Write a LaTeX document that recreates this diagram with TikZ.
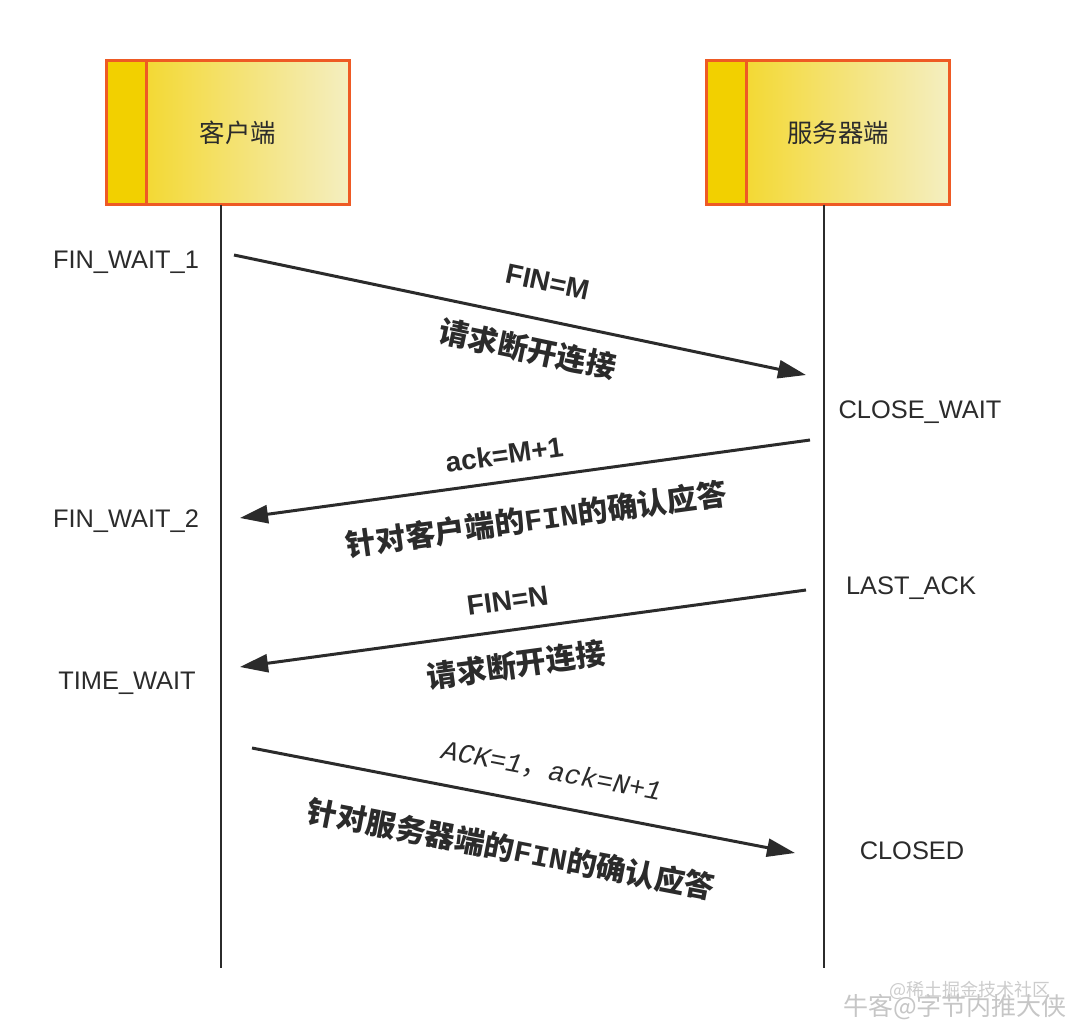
\documentclass[tikz,border=0pt]{standalone}
\usepackage{fontspec}
\setmainfont{Liberation Sans}
\newfontfamily\cjk{Noto Sans CJK SC}
\newfontfamily\mono{Liberation Mono}
\usetikzlibrary{arrows.meta}
\definecolor{boxedge}{HTML}{EE5A24}
\definecolor{boxgold}{HTML}{F2D000}
\definecolor{boxpale}{HTML}{F4EEC0}
\definecolor{ink}{HTML}{2B2B2B}
\begin{document}
\begin{tikzpicture}[x=0.5pt, y=-0.5pt, line width=1.5pt,
  every node/.style={text=ink, font=\fontsize{12.7}{14}\selectfont},
  party/.style={left color=boxgold!90!white, right color=boxpale, minimum width=120pt, minimum height=70.5pt, inner sep=0pt},
  edge/.style={draw=boxedge, line width=1.5pt},
  life/.style={draw=ink, line width=1.4pt},
  msg/.style={draw=ink, line width=1.5pt, -{Triangle[length=14pt,width=9pt]}},
  state/.style={inner sep=0pt},
  tag/.style={font=\fontsize{14}{16}\selectfont\bfseries, sloped, inner sep=0pt},
  note/.style={font=\cjk\bfseries\fontsize{15}{18}\selectfont, sloped, inner sep=0pt}]
  \fill[white] (0,0) rectangle (1080,1030);
  \useasboundingbox (0,0) rectangle (1080,1030);

  \node[party] (client) at (228,132.5) {};
  \fill[boxgold] (client.north west) rectangle ([xshift=20pt]client.south west);
  \draw[edge] (client.north west) rectangle (client.south east);
  \draw[edge] ([xshift=20pt]client.north west) -- ([xshift=20pt]client.south west);
  \node (clientName) at ([xshift=5pt]client.center) {\cjk 客户端};
  \node[party] (server) at (828,132.5) {};
  \fill[boxgold] (server.north west) rectangle ([xshift=20pt]server.south west);
  \draw[edge] (server.north west) rectangle (server.south east);
  \draw[edge] ([xshift=20pt]server.north west) -- ([xshift=20pt]server.south west);
  \node (serverName) at ([xshift=5pt]server.center) {\cjk 服务器端};

  \coordinate (clientEnd) at (221,968);
  \coordinate (serverEnd) at (824,968);
  \draw[life] (client.south -| clientEnd) -- (clientEnd);
  \draw[life] (server.south -| serverEnd) -- (serverEnd);

  \node[state] (fw1) at (126,262) {FIN\_WAIT\_1};
  \node[state] (cw) at (920,412) {CLOSE\_WAIT};
  \node[state] (fw2) at (126,521) {FIN\_WAIT\_2};
  \node[state] (la) at (911,588) {LAST\_ACK};
  \node[state] (tw) at (127,683) {TIME\_WAIT};
  \node[state] (cl) at (912,851) {CLOSED};

  \coordinate (finC) at (234,255);
  \coordinate (finS) at (806,375);
  \draw[msg] (finC) -- node[tag, pos=0.535, yshift=19pt] {FIN=M}
    node[note, pos=0.525, yshift=-16pt] {请求断开连接} (finS);
  \coordinate (ackS) at (810,440);
  \coordinate (ackC) at (240,518);
  \draw[msg] (ackS) -- node[tag, pos=0.53, yshift=13.5pt] {ack=M+1}
    node[note, pos=0.49, yshift=-20.5pt] {针对客户端的{\mono FIN}的确认应答} (ackC);
  \coordinate (fin2S) at (806,590);
  \coordinate (fin2C) at (240,667);
  \draw[msg] (fin2S) -- node[tag, pos=0.52, yshift=15pt] {FIN=N}
    node[note, pos=0.52, yshift=-17.5pt] {请求断开连接} (fin2C);
  \coordinate (lastC) at (252,748);
  \coordinate (lastS) at (795,853);
  \draw[msg] (lastC) -- node[sloped, inner sep=0pt, pos=0.54, yshift=17pt, font=\fontsize{13.6}{15}\selectfont] {{\mono\itshape ACK=1}{\cjk ，}{\mono\itshape ack=N+1}}
    node[note, pos=0.495, yshift=-25pt] {针对服务器端的{\mono FIN}的确认应答} (lastS);

  \node[font=\cjk\fontsize{9}{10}\selectfont, text=gray!40] (wmSite) at (970,990) {@稀土掘金技术社区};
  \node[font=\cjk\fontsize{12.5}{14}\selectfont, text=gray!45] (wmUser) at (955,1007) {牛客@字节内推大侠};
\end{tikzpicture}
\end{document}
